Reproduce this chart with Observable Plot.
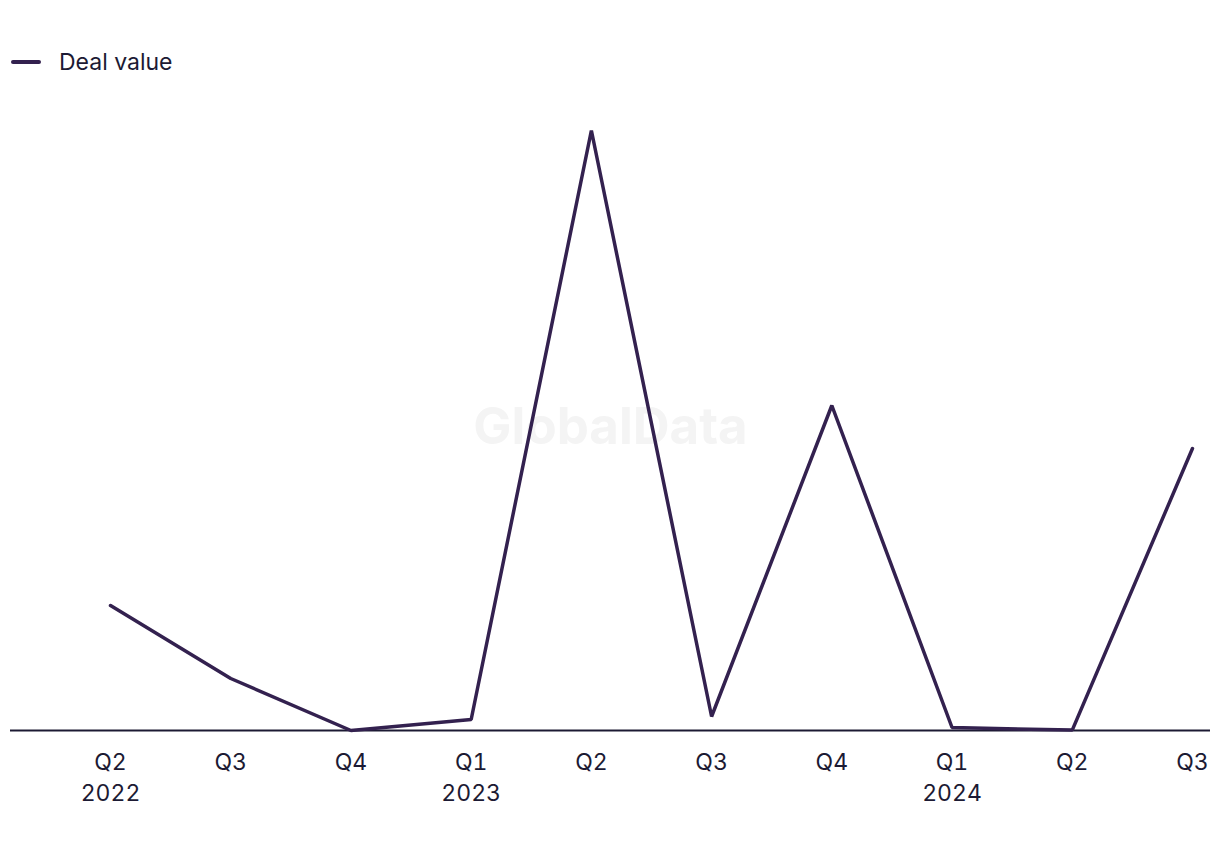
<!DOCTYPE html>
<html>
<head>
<meta charset="utf-8">
<script src="https://cdn.jsdelivr.net/npm/d3@7"></script>
<script src="https://cdn.jsdelivr.net/npm/@observablehq/plot@0.6"></script>
<style>
  html, body { margin: 0; padding: 0; background: #fff; }
  body { width: 1220px; height: 850px; overflow: hidden; font-family: Inter, "Liberation Sans", sans-serif; color: #1c1a33; }
  #legend { height: 100px; position: relative; }
  #legend .sw { position: absolute; left: 11px; top: 60px; width: 30px; height: 4px; background: #33214f; border-radius: 2px; }
  #legend .lb { position: absolute; left: 59px; top: 47px; font-size: 23px; line-height: 30px; color: #1c1a33; }
</style>
</head>
<body>
<div id="legend"><span class="sw"></span><span class="lb">Deal value</span></div>
<div id="chart"></div>
<script>
const quarters = ["Q2", "Q3", "Q4", "Q1", "Q2", "Q3", "Q4", "Q1", "Q2", "Q3"];
const years = ["2022", "", "", "2023", "", "", "", "2024", "", ""];
const dealValue = [125, 52, 0, 11, 600, 14, 325, 3, 0.4, 282];

const data = quarters.map((q, i) => ({i, q, y: years[i], v: dealValue[i]}));

const chart = Plot.plot({
  width: 1220,
  height: 750,
  marginLeft: 10,
  marginRight: 10,
  marginTop: 30,
  marginBottom: 120,
  style: {fontFamily: "Inter, 'Liberation Sans', sans-serif", color: "#1c1a33", background: "#fff"},
  x: {domain: [-0.832, 9.15], axis: null},
  y: {domain: [0, d3.max(dealValue)], axis: null},
  marks: [
    Plot.text(["GlobalData"], {frameAnchor: "middle", dy: -3, text: d => d, fontSize: 51, fontWeight: 700, fill: "#f4f4f4"}),
    Plot.ruleY([0], {stroke: "#1c1a33", strokeWidth: 2}),
    Plot.line(data, {x: "i", y: "v", stroke: "#33214f", strokeWidth: 3.5, strokeLinejoin: "miter"}),
    Plot.axisX(d3.range(quarters.length), {
      label: null,
      tickSize: 0,
      tickPadding: 17,
      fontSize: 23,
      lineHeight: 1.36,
      textAnchor: "middle",
      lineAnchor: "top",
      tickFormat: i => years[i] ? quarters[i] + "\n" + years[i] : quarters[i],
      fill: "#1c1a33"
    })
  ]
});
document.getElementById("chart").appendChild(chart);
</script>
</body>
</html>
